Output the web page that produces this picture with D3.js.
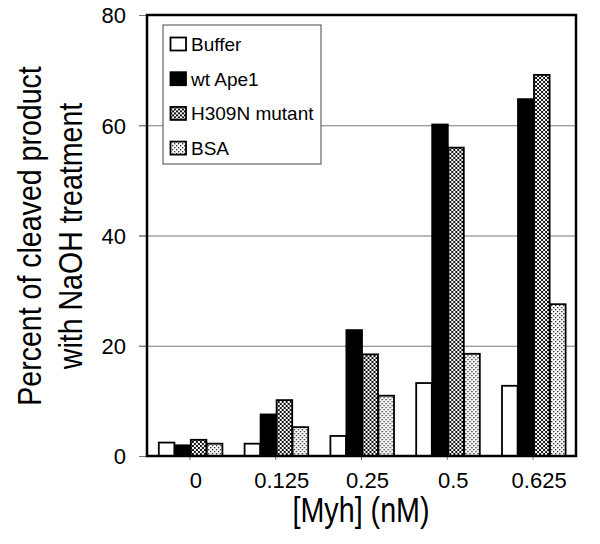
<!DOCTYPE html>
<html>
<head>
<meta charset="utf-8">
<script src="https://cdn.jsdelivr.net/npm/d3@7"></script>
<style>
  body { margin: 0; background: #fff; }
  svg { display: block; }
</style>
</head>
<body>
<svg id="chart" width="600" height="544"></svg>
<script>
// data
var concentrations = ["0", "0.125", "0.25", "0.5", "0.625"];
var seriesNames = ["Buffer", "wt Ape1", "H309N mutant", "BSA"];
var bufferVals = [2.6, 2.4, 3.8, 13.4, 12.9];
var wtApe1Vals = [2.1, 7.7, 23.0, 60.3, 64.9];
var h309nVals = [3.1, 10.3, 18.6, 56.1, 69.3];
var bsaVals = [2.4, 5.4, 11.1, 18.7, 27.7];
var yTicks = [0, 20, 40, 60, 80];

var seriesVals = [bufferVals, wtApe1Vals, h309nVals, bsaVals];

var svg = d3.select("#chart");
var margin = {top: 15, right: 24, bottom: 88, left: 147};
var width = 600 - margin.left - margin.right;
var height = 544 - margin.top - margin.bottom;

// fill patterns
var defs = svg.append("defs");
var checker = defs.append("pattern")
    .attr("id", "checker")
    .attr("width", 4).attr("height", 4)
    .attr("patternUnits", "userSpaceOnUse");
checker.append("rect").attr("width", 4).attr("height", 4).attr("fill", "#fff");
checker.append("rect").attr("width", 2).attr("height", 2).attr("fill", "#111");
checker.append("rect").attr("x", 2).attr("y", 2).attr("width", 2).attr("height", 2).attr("fill", "#111");

var dots = defs.append("pattern")
    .attr("id", "dots")
    .attr("width", 4).attr("height", 4)
    .attr("patternUnits", "userSpaceOnUse");
dots.append("rect").attr("width", 4).attr("height", 4).attr("fill", "#fff");
dots.append("rect").attr("x", 0).attr("y", 0).attr("width", 1.3).attr("height", 1.3).attr("fill", "#222");
dots.append("rect").attr("x", 2).attr("y", 2).attr("width", 1.3).attr("height", 1.3).attr("fill", "#222");

var fills = ["#fff", "#000", "url(#checker)", "url(#dots)"];

var g = svg.append("g")
    .attr("transform", "translate(" + margin.left + "," + margin.top + ")");

var x0 = d3.scaleBand()
    .domain(concentrations)
    .range([0, width])
    .paddingInner(0.254)
    .paddingOuter(0.127);

var x1 = d3.scaleBand()
    .domain(seriesNames)
    .range([0, x0.bandwidth()]);

var y = d3.scaleLinear()
    .domain([0, 80])
    .range([height, 0]);

// gridlines
g.append("g")
    .attr("class", "grid")
    .call(d3.axisLeft(y).tickValues([20, 40, 60]).tickSize(-width).tickFormat(""))
    .call(function(s) {
        s.select(".domain").remove();
        s.selectAll("line").attr("stroke", "#777").attr("stroke-width", 1).attr("x1", -8);
    });

// bars
var groups = g.selectAll(".group")
    .data(concentrations)
    .enter().append("g")
    .attr("class", "group")
    .attr("transform", function(d) { return "translate(" + x0(d) + ",0)"; });

groups.selectAll("rect")
    .data(function(d, i) {
        return seriesNames.map(function(name, j) {
            return {name: name, value: seriesVals[j][i], idx: j};
        });
    })
    .enter().append("rect")
    .attr("x", function(d) { return x1(d.name) + 0.9; })
    .attr("width", x1.bandwidth() - 0.4)
    .attr("y", function(d) { return y(d.value) + 0.9; })
    .attr("height", function(d) { return height - y(d.value) - 0.9; })
    .attr("fill", function(d) { return fills[d.idx]; })
    .attr("stroke", "#000")
    .attr("stroke-width", 1.8);

// y axis
var yAxis = g.append("g")
    .call(d3.axisLeft(y).tickValues(yTicks).tickSize(8).tickPadding(13));
yAxis.select(".domain").remove();
yAxis.selectAll("line").attr("stroke", "#777");
yAxis.selectAll("text")
    .attr("font-family", "'Liberation Sans', Arial, sans-serif")
    .attr("font-size", 22)
    .attr("fill", "#000")
    .attr("dy", "0.36em");

// x axis
var xAxis = g.append("g")
    .attr("transform", "translate(0," + height + ")")
    .call(d3.axisBottom(x0).tickSize(4).tickPadding(12));
xAxis.select(".domain").remove();
xAxis.selectAll("line").attr("stroke", "#777");
xAxis.selectAll("text")
    .attr("font-family", "'Liberation Sans', Arial, sans-serif")
    .attr("font-size", 22)
    .attr("fill", "#000")
    .attr("dx", 6);

// frame
g.append("rect")
    .attr("width", width)
    .attr("height", height)
    .attr("fill", "none")
    .attr("stroke", "#000")
    .attr("stroke-width", 2.5);

// legend
var legend = g.append("g")
    .attr("transform", "translate(16,10)");
legend.append("rect")
    .attr("width", 158)
    .attr("height", 139)
    .attr("fill", "#fff")
    .attr("stroke", "#444")
    .attr("stroke-width", 1);
var items = legend.selectAll(".item")
    .data(seriesNames)
    .enter().append("g")
    .attr("class", "item")
    .attr("transform", function(d, i) { return "translate(7," + (26 + i * 34.7) + ")"; });
items.append("rect")
    .attr("x", 0.5)
    .attr("y", -13.5)
    .attr("width", 15.5)
    .attr("height", 13)
    .attr("fill", function(d, i) { return fills[i]; })
    .attr("stroke", "#000")
    .attr("stroke-width", 1.8);
items.append("text")
    .attr("x", 21)
    .attr("y", 0)
    .attr("font-family", "'Liberation Sans', Arial, sans-serif")
    .attr("font-size", 19)
    .text(function(d) { return d; });

// axis titles
var titleFont = "'Liberation Sans', Arial, sans-serif";
var yTitleLines = ["Percent of cleaved product", "with NaOH treatment"];
svg.selectAll(".ytitle")
    .data(yTitleLines)
    .enter().append("text")
    .attr("class", "ytitle")
    .attr("transform", function(d, i) {
        return "translate(" + (41 + i * 41) + ",236) rotate(-90) scale(0.84,1)";
    })
    .attr("text-anchor", "middle")
    .attr("font-family", titleFont)
    .attr("font-size", 34)
    .text(function(d) { return d; });

svg.append("text")
    .attr("transform", "translate(361,522) scale(0.82,1)")
    .attr("text-anchor", "middle")
    .attr("font-family", titleFont)
    .attr("font-size", 35)
    .text("[Myh] (nM)");
</script>
</body>
</html>
